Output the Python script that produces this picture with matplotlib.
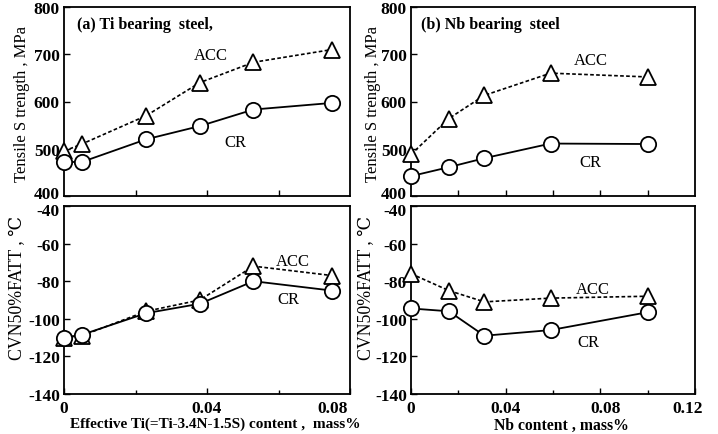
import matplotlib
matplotlib.use("Agg")
import matplotlib.pyplot as plt
import matplotlib.transforms as mtransforms

plt.rcParams['font.family'] = ['Liberation Serif', 'DejaVu Serif']
plt.rcParams['mathtext.fontset'] = 'stix'

# ---- data ----
ti_x = [0.0, 0.005, 0.023, 0.038, 0.053, 0.075]
ti_ts_acc = [495, 510, 570, 640, 683, 710]
ti_ts_cr = [472, 472, 520, 548, 583, 597]
ti_fatt_acc = [-110, -109, -96, -90, -72, -77]
ti_fatt_cr = [-110, -108.5, -97, -92, -80, -85]

nb_x = [0.0, 0.016, 0.031, 0.059, 0.1]
nb_ts_acc = [488, 564, 613, 660, 652]
nb_ts_cr = [442, 461, 480, 511, 510]
nb_fatt_acc = [-76, -85, -91, -89, -88]
nb_fatt_cr = [-94.5, -96, -109, -106, -96.5]

ts_ticks = [400, 500, 600, 700, 800]
fatt_ticks = [-140, -120, -100, -80, -60, -40]
ti_xticks = [0, 0.04, 0.08]
ti_xticklabels = ['0', '0.04', '0.08']
nb_xticks = [0, 0.04, 0.08, 0.12]
nb_xticklabels = ['0', '0.04', '0.08', '0.12']

W, H = 718, 435
fig = plt.figure(figsize=(W / 100, H / 100), dpi=100)


def ax_at(x0, y0, x1, y1):
    return fig.add_axes([x0 / W, 1 - y1 / H, (x1 - x0) / W, (y1 - y0) / H])


axA = ax_at(64, 8, 350, 197)
axB = ax_at(64, 207, 350, 395)
axC = ax_at(411, 8, 695, 197)
axD = ax_at(411, 207, 695, 395)

acc_style = dict(color='black', linestyle=(0, (2.2, 1.4)), lw=1.2, marker='^',
                 ms=11, mfc='white', mec='black', mew=1.3)
cr_style = dict(color='black', linestyle='-', lw=1.3, marker='o',
                ms=11, mfc='white', mec='black', mew=1.3)

tickfont = dict(fontsize=12.5, fontweight='bold')


def shift(label, dx, dy):
    label.set_transform(label.get_transform() +
                        mtransforms.ScaledTranslation(dx / 100, dy / 100, fig.dpi_scale_trans))


for ax in (axA, axB, axC, axD):
    for s in ax.spines.values():
        s.set_linewidth(1.3)
    ax.tick_params(direction='in', length=4, width=1.0, pad=3, labelsize=12.5)
    ax.tick_params(axis='x', pad=4)

# Ti panels
axA.plot(ti_x, ti_ts_acc, clip_on=False, zorder=3, **acc_style)
axA.plot(ti_x, ti_ts_cr, clip_on=False, zorder=4, **cr_style)
axB.plot(ti_x, ti_fatt_acc, clip_on=False, zorder=3, **acc_style)
axB.plot(ti_x, ti_fatt_cr, clip_on=False, zorder=4, **cr_style)
# Nb panels
axC.plot(nb_x, nb_ts_acc, clip_on=False, zorder=3, **acc_style)
axC.plot(nb_x, nb_ts_cr, clip_on=False, zorder=4, **cr_style)
axD.plot(nb_x, nb_fatt_acc, clip_on=False, zorder=3, **acc_style)
axD.plot(nb_x, nb_fatt_cr, clip_on=False, zorder=4, **cr_style)

for ax in (axA, axB):
    ax.set_xlim(0, 0.08)
for ax in (axC, axD):
    ax.set_xlim(0, 0.12)
for ax in (axA, axC):
    ax.set_ylim(400, 800)
    ax.set_yticks(ts_ticks)
    ax.set_yticklabels([str(t) for t in ts_ticks], **tickfont)
    ax.set_ylabel('Tensile S trength , MPa', fontsize=12)
    shift(ax.get_yticklabels()[0], 0, 4)
for ax in (axB, axD):
    ax.set_ylim(-140, -40)
    ax.set_yticks(fatt_ticks)
    ax.set_yticklabels([str(t) for t in fatt_ticks], **tickfont)
    ax.set_ylabel('CVN50%FATT , \u2103', fontsize=12.8)
    shift(ax.get_yticklabels()[-1], 0, -3)

axA.yaxis.set_label_coords(-0.119, 0.49)
axC.yaxis.set_label_coords(-0.106, 0.49)
axB.yaxis.set_label_coords(-0.133, 0.57)
axD.yaxis.set_label_coords(-0.125, 0.57)

axA.set_xticks([0.02, 0.04, 0.06])
axA.set_xticklabels([])
axC.set_xticks([0.02, 0.04, 0.06, 0.08, 0.1])
axC.set_xticklabels([])

axB.set_xticks(ti_xticks)
axB.set_xticklabels(ti_xticklabels, **tickfont)
axB.set_xticks([0.02, 0.06], minor=True)
axD.set_xticks(nb_xticks)
axD.set_xticklabels(nb_xticklabels, **tickfont)
axD.set_xticks([0.02, 0.06, 0.1], minor=True)
for ax in (axB, axD):
    ax.tick_params(which='minor', direction='in', length=3, width=1.0)

# shift outer x tick labels as in the original
shift(axB.get_xticklabels()[-1], -17, 0)
shift(axD.get_xticklabels()[-1], -7, 0)
shift(axD.get_xticklabels()[-2], 5, 0)

axB.set_xlabel('Effective Ti(=Ti-3.4N-1.5S) content ,  mass%', fontsize=11,
               fontweight='bold')
axB.xaxis.set_label_coords(0.53, -0.122)
axD.set_xlabel('Nb content , mass%', fontsize=11.3, fontweight='bold')
axD.xaxis.set_label_coords(0.528, -0.122)

# titles inside
axA.text(0.045, 0.91, '(a) Ti bearing  steel,', transform=axA.transAxes,
         fontsize=11.5, fontweight='bold', va='center', ha='left')
axC.text(0.035, 0.91, '(b) Nb bearing  steel', transform=axC.transAxes,
         fontsize=11.5, fontweight='bold', va='center', ha='left')

# curve labels
lab_kw = dict(fontsize=12, ha='center', va='center')
axA.text(0.041, 698, 'ACC', **lab_kw)
axA.text(0.048, 515, 'CR', **lab_kw)
axB.text(0.064, -69, 'ACC', **lab_kw)
axB.text(0.0627, -89.5, 'CR', **lab_kw)
axC.text(0.076, 687, 'ACC', **lab_kw)
axC.text(0.076, 472, 'CR', **lab_kw)
axD.text(0.077, -84, 'ACC', **lab_kw)
axD.text(0.075, -112.5, 'CR', **lab_kw)

fig.savefig('out.png', dpi=100)
